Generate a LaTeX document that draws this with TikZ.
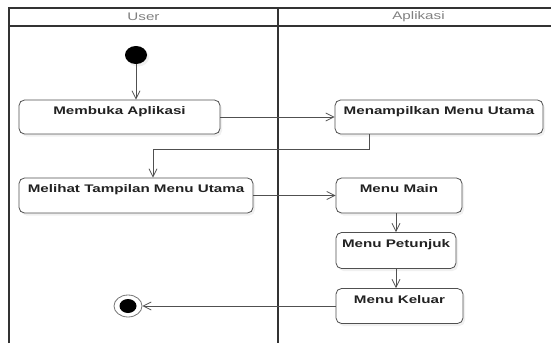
\documentclass[tikz,border=0pt]{standalone}
\usepackage{fontspec}
\setmainfont[FakeStretch=1.38]{Liberation Sans}
\usepackage{xcolor}
\usepackage{tikz}
\usetikzlibrary{calc, shapes, shadows, arrows.meta, positioning}
\definecolor{linegray}{HTML}{505050}
\definecolor{textgray}{HTML}{222222}
\definecolor{headgray}{HTML}{808080}
\tikzset{
    shapenode/.style = {draw=linegray, rectangle, fill=white, rounded corners=0.55em, line width=0.8pt,
      node distance=0em, drop shadow={shadow xshift=2pt, shadow yshift=-2.5pt, opacity=0.12}},
    textnode/.style  = {draw=none, fill=none, rectangle, minimum size=0cm, inner sep = 0em,
      node distance=0em, font=\fontsize{11}{13}\selectfont\bfseries, text=textgray},
    headnode/.style  = {textnode, font=\fontsize{11}{13}\selectfont, text=headgray},
    startnode/.style = {draw=none, fill=black, ellipse, inner sep = 0em, node distance=0em,
      minimum width=22pt, minimum height=18pt, drop shadow={shadow xshift=2pt, shadow yshift=-2.5pt, opacity=0.12}},
    endnode/.style = {draw=linegray!80, fill=white, ellipse, inner sep = 0em, node distance=0em,
      line width=0.8pt, minimum width=28pt, minimum height=22pt,
      path picture={\fill[black] (path picture bounding box.center) ellipse (8.5pt and 7pt);}},
    connect/.style = {linegray, line width=0.8pt, -{Straight Barb[length=8pt,width=8pt]}},
    lane/.style = {black!80, line width=1.5pt}
}

\begin{document}
\begin{tikzpicture}
    \useasboundingbox (0,0) rectangle (551pt,-343pt);

    % swimlanes
    \draw[lane] (9pt,-343pt) -- (9pt,-8pt) -- (551pt,-8pt);
    \draw[lane] (9pt,-26pt) -- (551pt,-26pt);
    \draw[lane] (278pt,-8pt) -- (278pt,-343pt);
    \node [headnode, name=userhead] at (143.5pt,-17pt) {User};
    \node [headnode, name=apphead, right of=userhead, xshift=275pt] {Aplikasi};

    \node [startnode, name=start] at (136pt,-55pt) {};

    \node [shapenode, name=membukabox, below of=start, xshift=-16.5pt, yshift=-62pt, minimum width=201pt, minimum height=34pt] {};
    \node [shapenode, name=menampilkanbox, right of=membukabox, xshift=319.5pt, minimum width=208pt, minimum height=34pt] {};
    \node [shapenode, name=melihatbox, below of=membukabox, xshift=16.5pt, yshift=-78.5pt, minimum width=234pt, minimum height=35pt] {};
    \node [shapenode, name=mainbox, right of=melihatbox, xshift=263pt, minimum width=126pt, minimum height=35pt] {};
    \node [shapenode, name=petunjukbox, below of=mainbox, xshift=-3pt, yshift=-55pt, minimum width=120pt, minimum height=36pt] {};
    \node [shapenode, name=keluarbox, below of=petunjukbox, xshift=3.5pt, yshift=-55.5pt, minimum width=127pt, minimum height=35pt] {};
    \node [endnode, name=finish, left of=keluarbox, xshift=-271.5pt] {};

    \node [textnode, name=membukatext, anchor=base] at ($(membukabox.north)+(0,-15pt)$) {Membuka Aplikasi};
    \node [textnode, name=menampilkantext, anchor=base] at ($(menampilkanbox.north)+(0,-15pt)$) {Menampilkan Menu Utama};
    \node [textnode, name=melihattext, anchor=base] at ($(melihatbox.north)+(0,-15pt)$) {Melihat Tampilan Menu Utama};
    \node [textnode, name=maintext, anchor=base] at ($(mainbox.north)+(0,-15pt)$) {Menu Main};
    \node [textnode, name=petunjuktext, anchor=base] at ($(petunjukbox.north)+(0,-15pt)$) {Menu Petunjuk};
    \node [textnode, name=keluartext, anchor=base] at ($(keluarbox.north)+(0,-15pt)$) {Menu Keluar};

    \draw[connect] (start.south) -- (start |- membukabox.north);
    \draw[connect] (membukabox.east) -- (menampilkanbox.west);
    \draw[connect] ($(menampilkanbox.south)+(-70pt,0)$) -- ++(0,-15pt) -| ($(melihatbox.north)+(17pt,0)$);
    \draw[connect] (melihatbox.east) -- (mainbox.west);
    \draw[connect] (petunjukbox.north |- mainbox.south) -- (petunjukbox.north);
    \draw[connect] (petunjukbox.south) -- (petunjukbox.south |- keluarbox.north);
    \draw[connect] (keluarbox.west) -- (finish.east);
\end{tikzpicture}
\end{document}
